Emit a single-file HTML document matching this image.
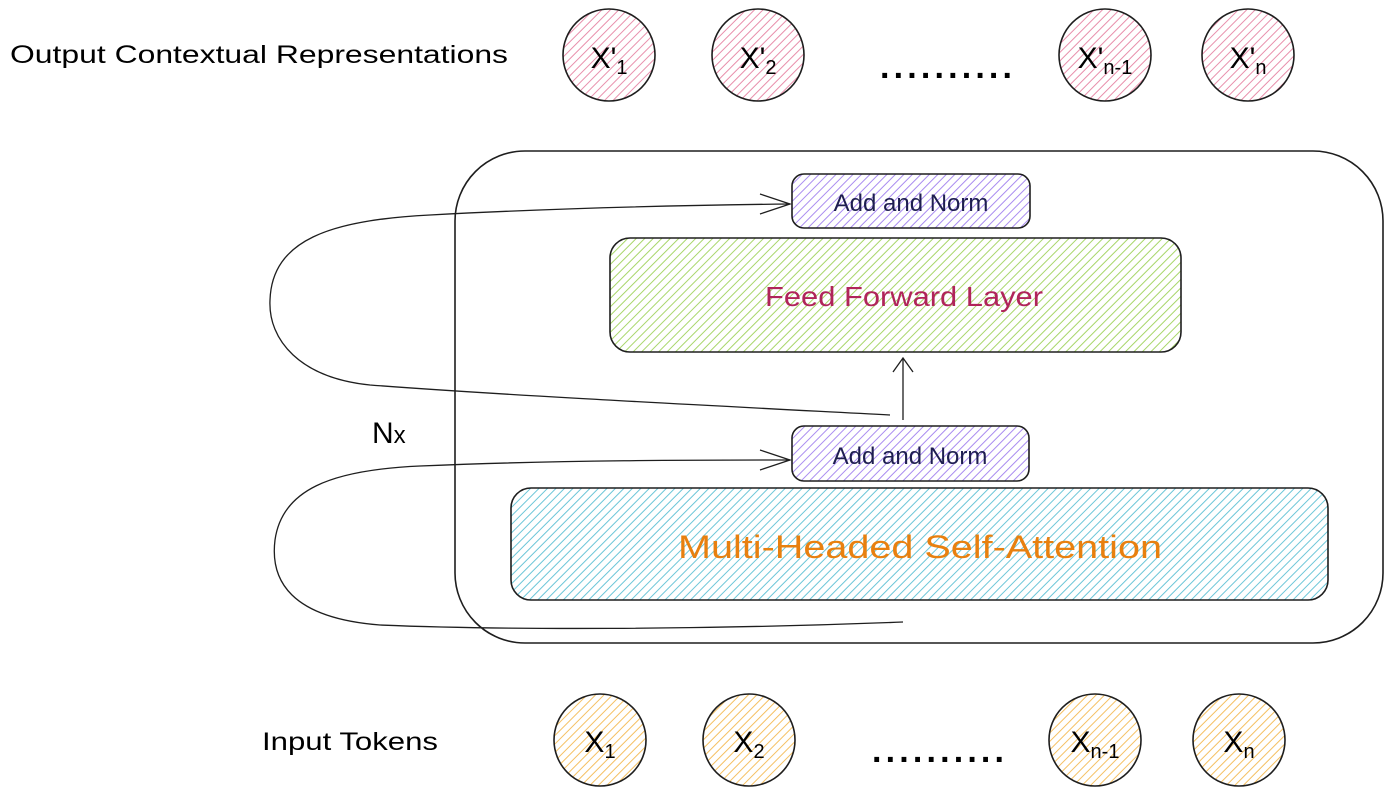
<!DOCTYPE html>
<html><head><meta charset="utf-8"><style>
html,body{margin:0;padding:0;background:#fff;}
svg{display:block;}
text{font-family:"Liberation Sans",sans-serif;}
</style></head><body>
<svg width="1395" height="794" viewBox="0 0 1395 794" xmlns="http://www.w3.org/2000/svg">
<defs>
<pattern id="hp" width="6" height="6" patternUnits="userSpaceOnUse" patternTransform="rotate(45)"><rect width="6" height="6" fill="#fff"/><line x1="0" y1="0" x2="0" y2="6" stroke="#e88fab" stroke-width="2"/></pattern>
<pattern id="hy" width="6" height="6" patternUnits="userSpaceOnUse" patternTransform="rotate(45)"><rect width="6" height="6" fill="#fff"/><line x1="0" y1="0" x2="0" y2="6" stroke="#f5c062" stroke-width="2"/></pattern>
<pattern id="hv" width="6" height="6" patternUnits="userSpaceOnUse" patternTransform="rotate(45)"><rect width="6" height="6" fill="#fff"/><line x1="0" y1="0" x2="0" y2="6" stroke="#a98cf0" stroke-width="2"/></pattern>
<pattern id="hg" width="6" height="6" patternUnits="userSpaceOnUse" patternTransform="rotate(45)"><rect width="6" height="6" fill="#fff"/><line x1="0" y1="0" x2="0" y2="6" stroke="#a8d66a" stroke-width="2"/></pattern>
<pattern id="hc" width="6" height="6" patternUnits="userSpaceOnUse" patternTransform="rotate(45)"><rect width="6" height="6" fill="#fff"/><line x1="0" y1="0" x2="0" y2="6" stroke="#6cc6d8" stroke-width="2"/></pattern>
</defs>
<text x="10" y="63" font-size="25" fill="#000" textLength="498" lengthAdjust="spacingAndGlyphs">Output Contextual Representations</text>
<text x="262" y="750" font-size="25" fill="#000" textLength="176" lengthAdjust="spacingAndGlyphs">Input Tokens</text>
<text x="372" y="443" font-size="30" fill="#000">N<tspan font-size="24">x</tspan></text>

<g stroke="#1e1e1e" stroke-width="1.6">
<circle cx="609" cy="55" r="46" fill="url(#hp)"/>
<circle cx="758" cy="55" r="46" fill="url(#hp)"/>
<circle cx="1105" cy="55" r="46" fill="url(#hp)"/>
<circle cx="1248" cy="55" r="46" fill="url(#hp)"/>
<circle cx="600" cy="740" r="46" fill="url(#hy)"/>
<circle cx="749" cy="740" r="46" fill="url(#hy)"/>
<circle cx="1095" cy="740" r="46" fill="url(#hy)"/>
<circle cx="1239" cy="740" r="46" fill="url(#hy)"/>
<rect x="455" y="151" width="928" height="492" rx="70" fill="none"/>
<rect x="792" y="174" width="238" height="54" rx="12" fill="url(#hv)"/>
<rect x="610" y="238" width="571" height="114" rx="20" fill="url(#hg)"/>
<rect x="792" y="426" width="237" height="55" rx="12" fill="url(#hv)"/>
<rect x="511" y="488" width="817" height="112" rx="20" fill="url(#hc)"/>
</g>
<g font-size="30" fill="#000" text-anchor="middle">
<text x="609" y="68">X'<tspan font-size="20" dy="6">1</tspan></text>
<text x="758" y="68">X'<tspan font-size="20" dy="6">2</tspan></text>
<text x="1105" y="68">X'<tspan font-size="20" dy="6">n-1</tspan></text>
<text x="1248" y="68">X'<tspan font-size="20" dy="6">n</tspan></text>
<text x="600" y="752">X<tspan font-size="20" dy="6">1</tspan></text>
<text x="749" y="752">X<tspan font-size="20" dy="6">2</tspan></text>
<text x="1095" y="752">X<tspan font-size="20" dy="6">n-1</tspan></text>
<text x="1239" y="752">X<tspan font-size="20" dy="6">n</tspan></text>
</g>
<text x="880" y="78" font-size="34" font-weight="bold" textLength="132" lengthAdjust="spacing">..........</text>
<text x="872" y="762" font-size="34" font-weight="bold" textLength="132" lengthAdjust="spacing">..........</text>
<text x="911" y="211" font-size="24" fill="#1e1e50" text-anchor="middle">Add and Norm</text>
<text x="910" y="464" font-size="24" fill="#1e1e50" text-anchor="middle">Add and Norm</text>
<text x="904" y="306" font-size="28" fill="#b0245a" text-anchor="middle" textLength="278" lengthAdjust="spacingAndGlyphs">Feed Forward Layer</text>
<text x="920" y="558" font-size="32" fill="#e8800f" text-anchor="middle" textLength="484" lengthAdjust="spacingAndGlyphs">Multi-Headed Self-Attention</text>
<g fill="none" stroke="#1e1e1e" stroke-width="1.3">
<path d="M903 420 L903 358 M893 372 L903 358 L913 372"/>
<path d="M903 622 C700 630 500 630 380 625 C290 618 270 580 275 540 C282 490 330 470 420 466 C560 460 700 460 790 460"/>
<path d="M760 450 L790 460 L760 470"/>
<path d="M890 415 C700 405 500 395 370 385 C300 378 268 340 270 300 C272 240 330 220 430 215 C560 208 700 205 790 204"/>
<path d="M760 194 L790 204 L760 214"/>
</g>
</svg>
</body></html>
